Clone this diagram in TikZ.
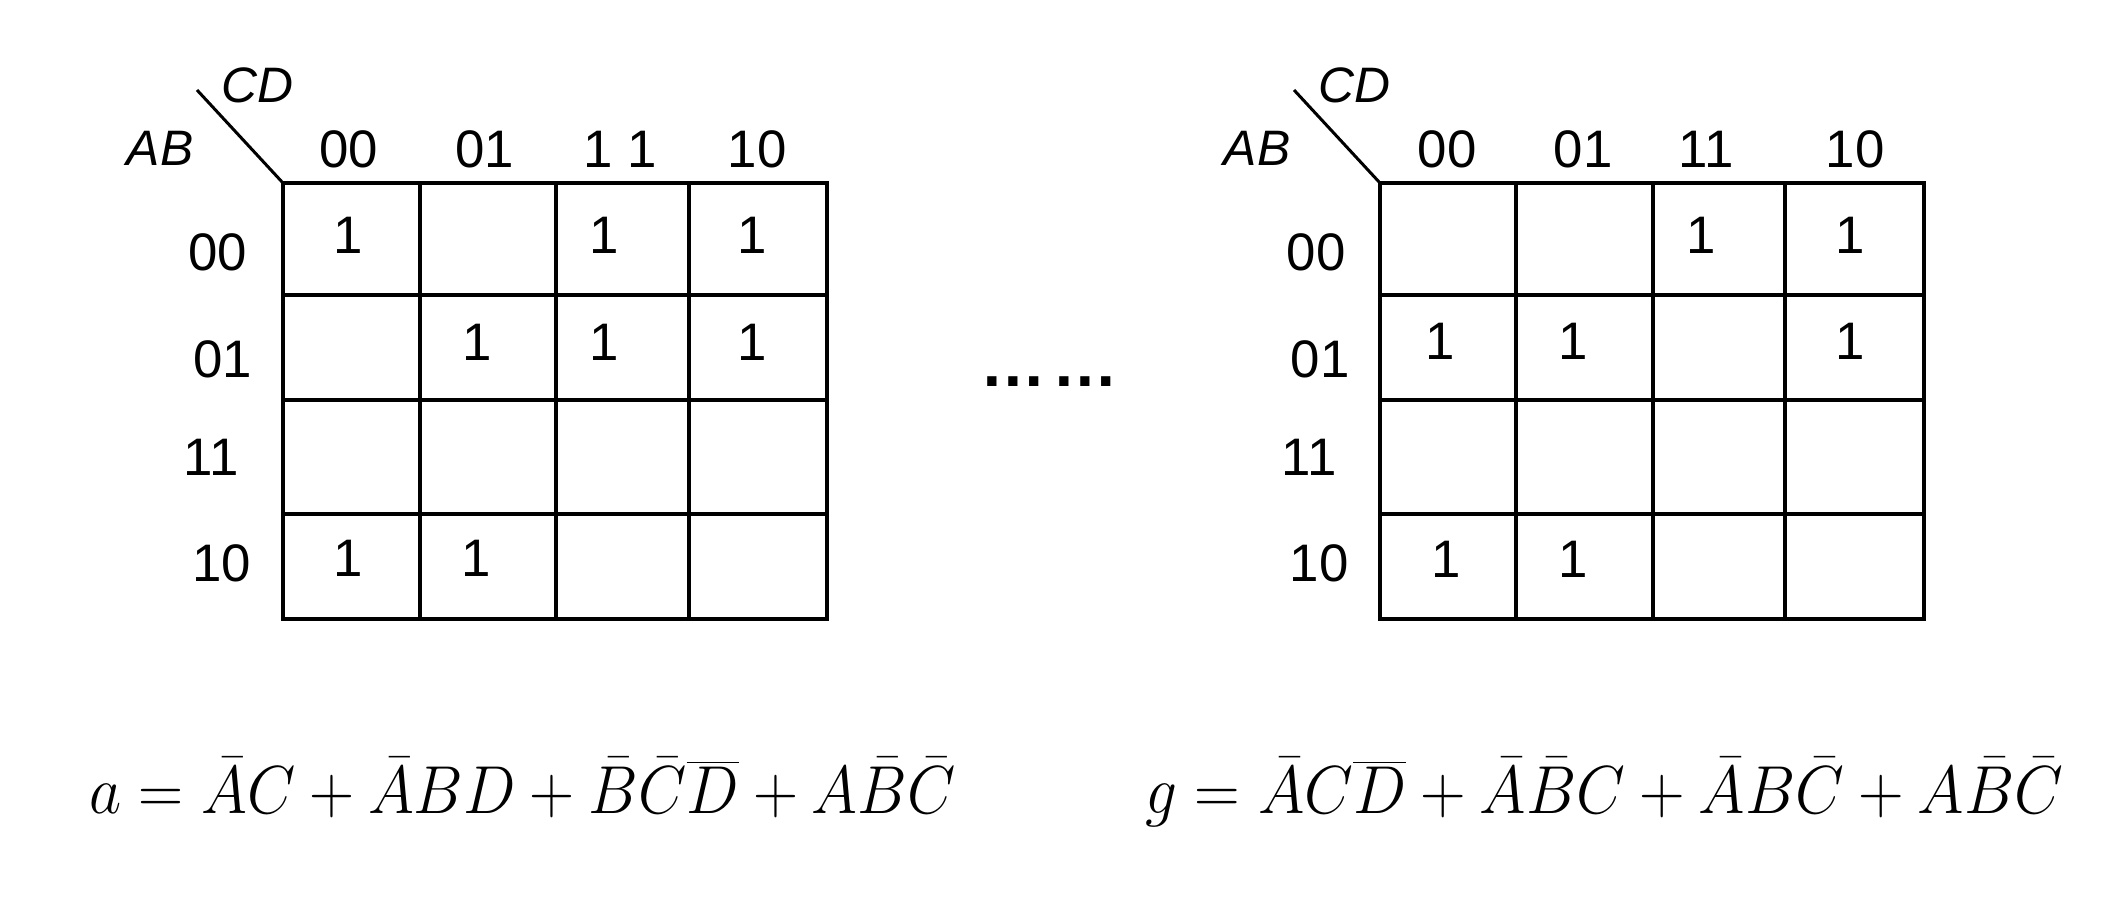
\documentclass[tikz,border=0pt]{standalone}
\usepackage[no-math]{fontspec}
\setmainfont{Liberation Sans}
\begin{document}
\begin{tikzpicture}[x=0.5bp,y=-0.5bp,
  gridline/.style={line width=1.7bp},
  diag/.style={line width=1.5bp},
  lab/.style={font=\fontsize{26.5}{30}\selectfont, inner sep=0pt, anchor=base},
  var/.style={font=\itshape\fontsize{25}{30}\selectfont, inner sep=0pt, anchor=base},
  formula/.style={font=\fontsize{24.88}{30}\selectfont, inner sep=0pt, anchor=base west, yscale=1.37}]
\useasboundingbox[fill=white] (0,0) rectangle (2114,902);

% ---------- left map ----------
\draw[gridline] (283,183) rectangle (827,619);
\foreach \y in {295,400,514} \draw[gridline] (283,\y) -- (827,\y);
\foreach \x in {420,556,689} \draw[gridline] (\x,183) -- (\x,619);
\draw[diag] (197,90) -- (283,183);
\node[var] (lCD) at (257.5,102.5) {CD};
\node[var] (lAB) at (160,165) {AB};
\node[lab] (lc0) at (349,167) {00};
\node[lab] (lc1) at (485,167) {01};
\node[lab] (lc2) at (620,167) {1 1};
\node[lab] (lc3) at (757,167) {10};
\node[lab] (lr0) at (218,270) {00};
\node[lab] (lr1) at (223,377) {01};
\node[lab] (lr2) at (211,475) {11};
\node[lab] (lr3) at (222,581) {10};
\node[lab] (l00) at (348.5,253) {1};
\node[lab] (l02) at (604,253) {1};
\node[lab] (l03) at (752,253) {1};
\node[lab] (l11) at (477,360) {1};
\node[lab] (l12) at (604,360) {1};
\node[lab] (l13) at (752,360) {1};
\node[lab] (l30) at (348.5,576) {1};
\node[lab] (l31) at (476,576) {1};

% ---------- dots ----------
\node[font=\bfseries\fontsize{33}{36}\selectfont, inner sep=0pt, anchor=base] (dots) at (1049.5,386) {…\kern3bp…};

% ---------- right map ----------
\draw[gridline] (1380,183) rectangle (1924,619);
\foreach \y in {295,400,514} \draw[gridline] (1380,\y) -- (1924,\y);
\foreach \x in {1516,1653,1785} \draw[gridline] (\x,183) -- (\x,619);
\draw[diag] (1294,90) -- (1380,183);
\node[var] (rCD) at (1354.5,102.5) {CD};
\node[var] (rAB) at (1257,165) {AB};
\node[lab] (rc0) at (1447,167) {00};
\node[lab] (rc1) at (1583,167) {01};
\node[lab] (rc2) at (1706,167) {11};
\node[lab] (rc3) at (1855,167) {10};
\node[lab] (rr0) at (1316,270) {00};
\node[lab] (rr1) at (1320,377) {01};
\node[lab] (rr2) at (1309,475) {11};
\node[lab] (rr3) at (1319,581) {10};
\node[lab] (r02) at (1701,253) {1};
\node[lab] (r03) at (1850,253) {1};
\node[lab] (r10) at (1440,359) {1};
\node[lab] (r11) at (1573,359) {1};
\node[lab] (r13) at (1850,359) {1};
\node[lab] (r30) at (1446,577) {1};
\node[lab] (r31) at (1573,577) {1};

% ---------- formulas ----------
\node[formula, xscale=1.26] (fa) at (89,813) {$a=\bar{A}C+\bar{A}BD+\bar{B}\bar{C}\overline{D}+A\bar{B}\bar{C}$};
\node[formula, xscale=1.275] (fg) at (1145,813) {$g=\bar{A}C\overline{D}+\bar{A}\bar{B}C+\bar{A}B\bar{C}+A\bar{B}\bar{C}$};
\end{tikzpicture}
\end{document}
